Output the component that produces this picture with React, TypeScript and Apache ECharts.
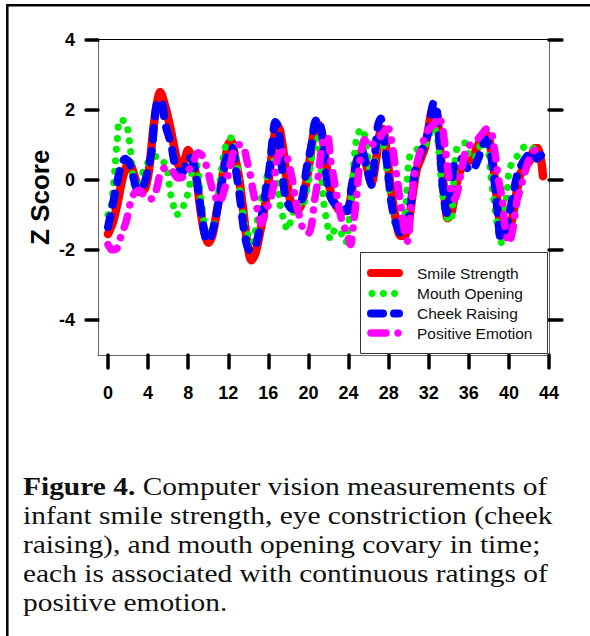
import React, { useEffect, useRef } from "react";
import * as echarts from "echarts";

const xTicks = [0, 4, 8, 12, 16, 20, 24, 28, 32, 36, 40, 44];
const yTicks = [-4, -2, 0, 2, 4];

const seriesNames = ["Smile Strength", "Mouth Opening", "Cheek Raising", "Positive Emotion"];

const smileStrength: [number, number][] = [
  [0, -1.55], [0.5, -1.2], [1, -0.6], [1.5, 0.1], [2.1, 0.5], [2.7, 0.05], [3.2, -0.35], [3.7, -0.25],
  [4.1, 0.3], [4.5, 1.4], [4.9, 2.2], [5.2, 2.5], [5.7, 2.1], [6.2, 1.5], [6.7, 0.8], [7.1, 0.4],
  [7.6, 0.55], [8.0, 0.85], [8.4, 0.6], [8.8, 0.1], [9.2, -0.8], [9.6, -1.5], [10.0, -1.8], [10.4, -1.6],
  [10.8, -1.0], [11.2, -0.3], [11.6, 0.4], [12.0, 1.0], [12.3, 1.1], [12.7, 0.6], [13.1, 0.0], [13.5, -0.9],
  [13.9, -1.8], [14.3, -2.3], [14.7, -2.1], [15.1, -1.6], [15.5, -1.0], [15.9, -0.3], [16.3, 0.6], [16.7, 1.4],
  [17.0, 1.5], [17.4, 1.0], [17.8, 0.1], [18.2, -0.6], [18.8, -0.9], [19.3, -0.7], [19.7, -0.2], [20.1, 0.5],
  [20.5, 1.3], [20.9, 1.6], [21.3, 1.4], [21.7, 0.6], [22.1, -0.2], [22.5, -0.6], [23.0, -0.85], [23.5, -0.9],
  [24.0, -0.8], [24.4, -0.2], [24.8, 0.5], [25.3, 0.8], [25.8, 0.4], [26.3, -0.1], [26.7, 0.5], [27.1, 1.3],
  [27.4, 1.45], [27.8, 0.8], [28.2, -0.2], [28.7, -1.1], [29.2, -1.6], [29.6, -1.6], [30.0, -1.2], [30.4, -0.4],
  [30.8, 0.3], [31.2, 0.6], [31.6, 0.9], [32.0, 1.5], [32.4, 2.0], [32.8, 1.9], [33.1, 1.0], [33.5, -0.2],
  [33.9, -1.1], [34.3, -0.9], [34.7, -0.2], [35.2, 0.3], [35.8, 0.5], [36.3, 0.6], [36.8, 0.9], [37.3, 1.2],
  [37.7, 1.3], [38.0, 1.2], [38.4, 0.5], [38.8, -0.5], [39.2, -1.4], [39.6, -1.6], [40.0, -1.5], [40.4, -1.0],
  [40.8, -0.3], [41.2, 0.2], [41.7, 0.4], [42.2, 0.6], [42.6, 0.9], [42.95, 0.9], [43.4, 0.1],
];

const mouthOpening: [number, number][] = [
  [0, -1.0], [0.2, -0.95], [0.5, -0.3], [0.7, 0.37], [0.9, 1.06], [1.2, 1.71], [1.8, 1.63], [2.2, 0.94],
  [2.4, 0.34], [2.6, -0.15], [3.0, -0.25], [3.5, 0.23], [4.0, 0.5], [4.4, 0.66], [4.9, 0.66], [5.4, 0.57],
  [5.9, 0.29], [6.2, -0.34], [6.5, -0.7], [6.8, -1.0], [7.2, -0.95], [7.6, -0.7], [7.9, -0.45], [8.2, -0.1],
  [8.6, 0.6], [8.9, 0.4], [9.3, -0.6], [9.7, -1.4], [10.0, -1.65], [10.4, -1.5], [10.8, -0.9], [11.2, 0.0],
  [11.6, 0.8], [12.0, 1.15], [12.4, 1.2], [12.8, 0.6], [13.2, -0.4], [13.6, -1.2], [14.0, -1.6], [14.4, -1.8],
  [14.8, -1.3], [15.2, -0.6], [15.6, -0.3], [16.0, 0.3], [16.4, 0.6], [16.8, 0.2], [17.2, -0.77], [17.6, -1.2],
  [17.9, -1.43], [18.3, -1.1], [18.8, -0.7], [19.3, -0.8], [19.9, -0.2], [20.2, 0.4], [20.6, 1.1], [20.9, 1.2],
  [21.2, 0.5], [21.5, -0.6], [21.9, -1.3], [22.2, -1.7], [22.7, -1.4], [23.2, -1.5], [23.7, -1.8], [24.1, -1.0],
  [24.4, 0.0], [24.7, 1.0], [25.0, 1.35], [25.4, 1.45], [25.8, 0.9], [26.2, 0.3], [26.6, 0.5], [27.0, 1.0],
  [27.4, 1.0], [27.8, 0.3], [28.3, -0.8], [28.8, -1.4], [29.3, -1.5], [29.7, -0.8], [30.1, 0.66], [30.8, 0.86],
  [31.3, 0.9], [31.7, 1.0], [32.1, 1.3], [32.5, 1.5], [32.9, 1.1], [33.3, -0.2], [33.7, -1.0], [34.2, -1.2],
  [34.5, 0.0], [34.8, 0.9], [35.2, 0.95], [35.6, 1.05], [36.0, 0.7], [36.5, 0.6], [37.0, 0.9], [37.5, 1.1],
  [37.9, 0.9], [38.2, 0.1], [38.5, -0.6], [38.9, -1.4], [39.2, -1.8], [39.5, -1.3], [39.8, -0.4], [40.1, 0.34],
  [40.8, 0.66], [41.6, 0.94], [42.2, 0.85], [42.9, 1.09],
];

const cheekRaising: [number, number][] = [
  [0, -1.35], [0.4, -0.8], [0.9, -0.1], [1.3, 0.4], [1.7, 0.6], [2.1, 0.5], [2.5, 0.1], [3.0, -0.3],
  [3.5, -0.2], [4.0, 0.3], [4.4, 0.9], [4.6, 1.6], [4.9, 2.2], [5.3, 2.25], [5.7, 1.6], [6.3, 1.0],
  [6.8, 0.3], [7.4, 0.2], [8.1, 0.65], [8.6, 0.4], [9.1, -0.5], [9.5, -1.3], [9.9, -1.75], [10.3, -1.6],
  [10.8, -1.0], [11.3, -0.2], [11.7, 0.5], [12.1, 0.85], [12.4, 0.9], [12.8, 0.2], [13.2, -0.6], [13.6, -1.5],
  [14.1, -2.0], [14.5, -2.0], [14.9, -1.7], [15.3, -1.1], [15.7, -0.4], [16.1, 0.3], [16.4, 1.1], [16.7, 1.65],
  [17.0, 1.5], [17.3, 0.5], [17.7, -0.5], [18.2, -0.8], [18.9, -0.85], [19.4, -0.5], [19.8, 0.3], [20.3, 1.0],
  [20.6, 1.6], [20.9, 1.75], [21.3, 1.4], [21.6, 0.6], [22.0, -0.3], [22.4, -0.6], [23.0, -0.75], [23.5, -0.75],
  [23.9, -0.9], [24.3, -0.2], [24.8, 0.5], [25.3, 0.85], [25.8, 0.35], [26.3, -0.15], [26.6, 0.6], [26.9, 1.5],
  [27.2, 1.75], [27.5, 1.2], [27.9, 0.3], [28.3, -0.7], [28.8, -1.3], [29.3, -1.55], [29.8, -1.4], [30.2, -0.7],
  [30.6, 0.2], [31.0, 0.6], [31.4, 0.9], [31.9, 1.3], [32.3, 2.0], [32.5, 2.2], [32.8, 2.0], [33.1, 1.0],
  [33.4, -0.2], [33.8, -0.95], [34.2, -0.3], [34.6, 0.5], [35.2, 0.6], [35.8, 0.35], [36.3, 0.25], [36.8, 0.5],
  [37.3, 0.9], [37.7, 1.15], [38.1, 0.9], [38.5, 0.1], [38.9, -1.0], [39.2, -1.7], [39.6, -1.5], [40.1, -0.9],
  [40.5, -0.3], [40.9, 0.2], [41.4, 0.5], [41.9, 0.7], [42.4, 0.8], [42.8, 0.6], [43.2, 0.7],
];

const positiveEmotion: [number, number][] = [
  [0, -1.85], [0.4, -2.0], [0.9, -1.95], [1.3, -1.6], [1.8, -1.2], [2.2, -0.7], [2.6, -0.4], [3.1, -0.3],
  [3.6, -0.45], [4.2, -0.55], [4.6, -0.5], [4.9, -0.2], [5.3, 0.25], [5.8, 0.35], [6.4, 0.25], [7.0, 0.05],
  [7.6, 0.1], [8.1, 0.3], [8.5, 0.5], [9.0, 0.77], [9.5, 0.65], [10.0, 0.2], [10.5, -0.35], [11.1, -0.65],
  [11.6, -0.3], [12.1, 0.3], [12.6, 0.85], [13.1, 1.0], [13.5, 0.95], [13.9, 0.5], [14.2, 0.14], [14.5, -0.37],
  [14.9, -0.86], [15.3, -1.24], [15.8, -0.86], [16.2, -0.57], [16.5, -0.2], [16.8, 0.49], [17.2, 0.77], [17.7, 0.8],
  [18.0, 0.49], [18.4, 0.0], [18.7, -0.57], [19.0, -0.94], [19.5, -1.43], [20.0, -1.52], [20.3, -1.3], [20.6, -0.6],
  [20.9, -0.09], [21.2, 0.66], [21.5, 1.14], [21.9, 1.24], [22.2, 0.57], [22.5, 0.09], [22.9, -0.57], [23.4, -1.24],
  [23.9, -1.55], [24.2, -1.85], [24.5, -1.24], [24.8, -0.49], [25.0, 0.2], [25.3, 0.86], [25.6, 1.14], [26.1, 0.94],
  [26.7, 1.1], [27.1, 1.2], [27.6, 1.4], [28.0, 1.45], [28.3, 1.1], [28.6, 0.5], [28.9, -0.1], [29.3, -0.9],
  [29.6, -1.5], [29.9, -1.75], [30.2, -0.9], [30.6, 0.2], [31.1, 0.75], [31.7, 1.3], [32.2, 1.5], [32.6, 1.6],
  [32.9, 1.8], [33.3, 1.6], [33.6, 1.0], [33.9, 0.3], [34.2, -0.3], [34.6, -0.55], [34.9, -0.3], [35.3, 0.3],
  [35.8, 0.9], [36.7, 1.1], [37.3, 1.3], [37.8, 1.45], [38.2, 1.4], [38.5, 0.95], [38.7, 0.6], [38.9, 0.1],
  [39.3, -0.5], [39.6, -1.3], [40.0, -1.8], [40.4, -1.4], [40.8, -0.6], [41.1, -0.3], [41.5, 0.1], [41.9, 0.5],
  [42.4, 0.77], [43.0, 1.05],
];

const captionLines = [
  "{b|Figure 4.} Computer vision measurements of",
  "infant smile strength, eye constriction (cheek",
  "raising), and mouth opening covary in time;",
  "each is associated with continuous ratings of",
  "positive emotion.",
];

const SANS = "'Liberation Sans', Arial, Helvetica, sans-serif";
const SERIF = "'Liberation Serif', 'Times New Roman', serif";

export default function App() {
  const ref = useRef<HTMLDivElement>(null);
  useEffect(() => {
    document.body.style.margin = "0";
    if (!ref.current) return;
    const chart = echarts.init(ref.current, undefined, { renderer: "svg" });
    const tickStyle = { color: "#000", width: 3.5, cap: "round" as const };
    const labelStyle = { fontSize: 18, fontWeight: "bold" as const, color: "#000", fontFamily: SANS };
    const lineBase = { cap: "round" as const, join: "round" as const };

    const legendRows = [273, 293.5, 313.5, 333];
    const legendTextX = 417;

    const option: any = {
      animation: false,
      backgroundColor: "#fff",
      grid: { left: 98, right: 41, top: 39.5, bottom: 281, containLabel: false },
      xAxis: [
        {
          type: "value", min: -1, max: 44, position: "bottom",
          axisLine: { show: true, onZero: false, lineStyle: { color: "#666", width: 1 } },
          axisTick: { show: true, customValues: xTicks, length: 13, lineStyle: tickStyle },
          axisLabel: { show: true, customValues: xTicks, margin: 29, ...labelStyle },
          splitLine: { show: false },
        },
        {
          type: "value", min: -1, max: 44, position: "top",
          axisLine: { show: true, onZero: false, lineStyle: { color: "#000", width: 1 } },
          axisTick: { show: false }, axisLabel: { show: false }, splitLine: { show: false },
        },
      ],
      yAxis: [
        {
          type: "value", min: -5, max: 4, position: "left",
          name: "Z Score", nameLocation: "middle", nameGap: 45, nameRotate: 90, nameMoveOverlap: false,
          nameTextStyle: { fontSize: 26, fontWeight: "bold", color: "#000", fontFamily: SANS },
          axisLine: { show: true, onZero: false, lineStyle: { color: "#666", width: 1 } },
          axisTick: { show: true, customValues: yTicks, length: 12, lineStyle: tickStyle },
          axisLabel: { show: true, customValues: yTicks, margin: 23, ...labelStyle },
          splitLine: { show: false },
        },
        {
          type: "value", min: -5, max: 4, position: "right",
          axisLine: { show: true, onZero: false, lineStyle: { color: "#666", width: 1 } },
          axisTick: { show: true, customValues: yTicks, length: 13, lineStyle: tickStyle },
          axisLabel: { show: false }, splitLine: { show: false },
        },
      ],
      series: [
        {
          name: seriesNames[0], type: "line", data: smileStrength, symbol: "none", smooth: 0.3,
          lineStyle: { ...lineBase, color: "#ff0000", width: 8.5, type: "solid" },
        },
        {
          name: seriesNames[1], type: "line", data: mouthOpening, symbol: "none", smooth: 0.3,
          lineStyle: { ...lineBase, color: "#00ee00", width: 7, type: [0.1, 11] },
        },
        {
          name: seriesNames[2], type: "line", data: cheekRaising, symbol: "none", smooth: 0.3,
          lineStyle: { ...lineBase, color: "#0000ff", width: 8, type: [11, 12] },
        },
        {
          name: seriesNames[3], type: "line", data: positiveEmotion, symbol: "none", smooth: 0.3,
          lineStyle: { ...lineBase, color: "#ff00ff", width: 7.5, type: [12, 11, 0.1, 11] },
        },
      ],
      graphic: [
        {
          type: "rect", silent: true,
          shape: { x: 7.3, y: 5.2, width: 700, height: 700 },
          style: { fill: "none", stroke: "#000", lineWidth: 2.5 },
        },
        {
          type: "rect", z: 100,
          shape: { x: 360.5, y: 252.5, width: 187, height: 101 },
          style: { fill: "#fff", stroke: "#333", lineWidth: 1 },
        },
        {
          type: "line", z: 101,
          shape: { x1: 371, y1: legendRows[0], x2: 399, y2: legendRows[0] },
          style: { stroke: "#ff0000", lineWidth: 8, lineCap: "round" },
        },
        ...[372, 383.3, 394.6].map((cx) => ({
          type: "circle", z: 101,
          shape: { cx, cy: legendRows[1], r: 3.6 },
          style: { fill: "#00ee00" },
        })),
        {
          type: "line", z: 101,
          shape: { x1: 371, y1: legendRows[2], x2: 383, y2: legendRows[2] },
          style: { stroke: "#0000ff", lineWidth: 8, lineCap: "round" },
        },
        {
          type: "line", z: 101,
          shape: { x1: 394, y1: legendRows[2], x2: 399, y2: legendRows[2] },
          style: { stroke: "#0000ff", lineWidth: 8, lineCap: "round" },
        },
        {
          type: "line", z: 101,
          shape: { x1: 371, y1: legendRows[3], x2: 386, y2: legendRows[3] },
          style: { stroke: "#ff00ff", lineWidth: 7.5, lineCap: "round" },
        },
        {
          type: "circle", z: 101,
          shape: { cx: 398, cy: legendRows[3], r: 3.8 },
          style: { fill: "#ff00ff" },
        },
        ...seriesNames.map((n, i) => ({
          type: "text", z: 101, x: legendTextX, y: legendRows[i],
          style: { text: n, fill: "#111", font: `15.5px ${SANS}`, textVerticalAlign: "middle", textAlign: "left" },
        })),
        ...captionLines.map((line, i) => ({
          type: "text", x: 23, y: 487 + i * 29, scaleX: 1.178,
          style: {
            text: line, fill: "#111", fontFamily: SERIF, fontSize: 25,
            verticalAlign: "middle", align: "left",
            rich: { b: { fontFamily: SERIF, fontSize: 25, fontWeight: "bold", fill: "#111" } },
          },
        })),
      ],
    };
    chart.setOption(option);
    return () => chart.dispose();
  }, []);
  return <div ref={ref} style={{ width: 590, height: 636 }} />;
}
